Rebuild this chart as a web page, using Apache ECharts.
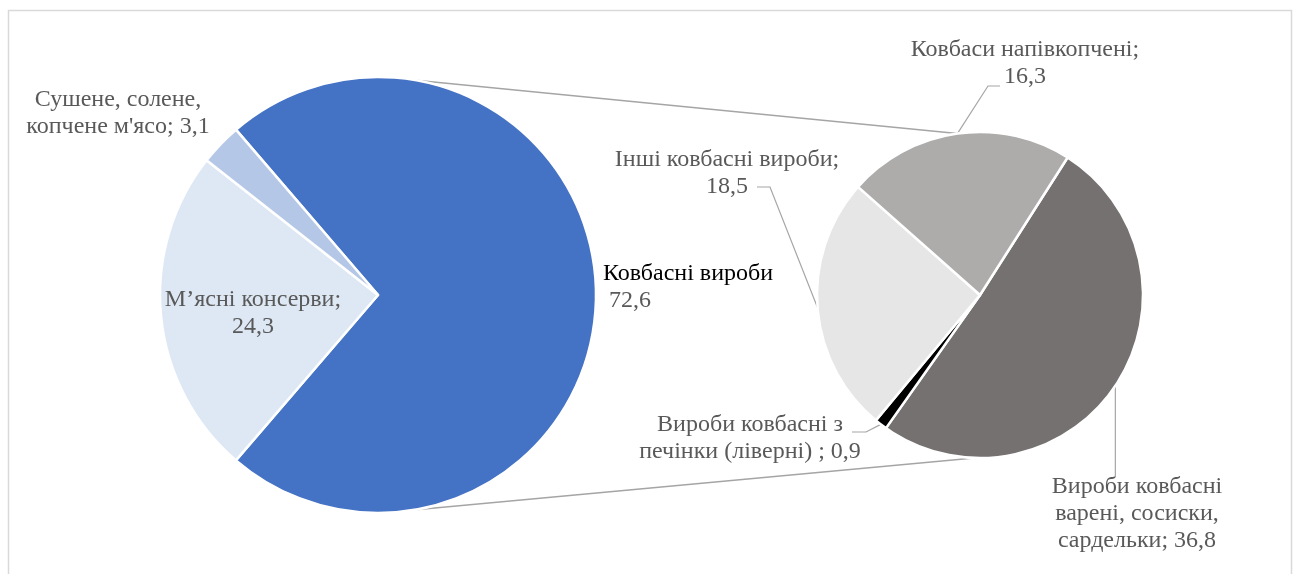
<!DOCTYPE html>
<html><head><meta charset="utf-8">
<script src="https://cdn.jsdelivr.net/npm/echarts@6/dist/echarts.min.js"></script>
<style>html,body{margin:0;padding:0;background:#fff}#c{width:1297px;height:574px}</style>
</head><body><div id="c"></div>
<script>
// ---- data ----
const mainCategories = ['Ковбасні вироби', 'М’ясні консерви', "Сушене, солене, копчене м'ясо"];
const mainValues = [72.6, 24.3, 3.1];
const mainLabelText = ['{b|Ковбасні вироби}\n{v| %v}', 'М’ясні консерви;\n%v', "Сушене, солене,\nкопчене м'ясо; %v"];

const subCategories = ['Вироби ковбасні варені, сосиски, сардельки', 'Вироби ковбасні з печінки (ліверні)', 'Інші ковбасні вироби', 'Ковбаси напівкопчені'];
const subValues = [36.8, 0.9, 18.5, 16.3];
const subLabelText = ['Вироби ковбасні\nварені, сосиски,\nсардельки; %v', 'Вироби ковбасні з\nпечінки (ліверні) ; %v', 'Інші ковбасні вироби;\n%v', 'Ковбаси напівкопчені;\n%v'];

// ---- styles / layout ----
const mainColors = ['#4472C4', '#DEE8F5', '#B4C7E7'];
const subColors = ['#767171', '#000000', '#E7E6E6', '#AEABAB'];
const LEFT = {cx: 378, cy: 295, r: 218};
const RIGHT = {cx: 980, cy: 295, r: 163};
const leftStart = mainValues[0] / mainValues.reduce((a, b) => a + b, 0) * 180;
const rightStart = 57.5;
const FONT = "'Liberation Serif', 'Times New Roman', serif";
const FS = 24, LH = 27;
const GRAY = '#595959';

const mainLabelPos = [
  {x: 603, y: 287, align: 'left'},
  {x: 253, y: 313, align: 'center'},
  {x: 118, y: 113, align: 'center'}
];
const subLabelPos = [
  {x: 1137, y: 514, align: 'center', line: p => [p, [p[0], 476]]},
  {x: 750, y: 438, align: 'center', line: p => [p, [866, 432], [852, 432]]},
  {x: 727, y: 173, align: 'center', line: p => [p, [770, 187], [757, 187]]},
  {x: 1025, y: 63, align: 'center', line: p => [p, [988, 86], [1000, 86]]}
];

const fmt = v => v.toFixed(1).replace('.', ',');

function edgePoint(vals, i, start, g) {
  const tot = vals.reduce((a, b) => a + b, 0);
  let cum = 0;
  for (let k = 0; k < i; k++) cum += vals[k];
  const a = (start - (cum + vals[i] / 2) / tot * 360) * Math.PI / 180;
  return [g.cx + g.r * Math.cos(a), g.cy - g.r * Math.sin(a)];
}
function pt(g, deg) {
  const a = deg * Math.PI / 180;
  return [g.cx + g.r * Math.cos(a), g.cy - g.r * Math.sin(a)];
}

const chart = echarts.init(document.getElementById('c'), null, {renderer: 'canvas'});

const topL = pt(LEFT, 80), topR = pt(RIGHT, 98);
const botL = pt(LEFT, -80), botR = pt(RIGHT, -92);

chart.setOption({
  animation: false,
  backgroundColor: '#fff',
  graphic: [
    {type: 'rect', shape: {x: 8.5, y: 10.5, width: 1283, height: 580}, style: {fill: 'none', stroke: '#D9D9D9', lineWidth: 1.5}, z: -10},
    {type: 'line', shape: {x1: topL[0], y1: topL[1], x2: topR[0], y2: topR[1]}, style: {stroke: '#A5A5A5', lineWidth: 1.5}, z: -5},
    {type: 'line', shape: {x1: botL[0], y1: botL[1], x2: botR[0], y2: botR[1]}, style: {stroke: '#A5A5A5', lineWidth: 1.5}, z: -5}
  ],
  series: [
    {
      type: 'pie',
      center: [LEFT.cx, LEFT.cy],
      radius: LEFT.r,
      startAngle: leftStart,
      clockwise: true,
      avoidLabelOverlap: false,
      itemStyle: {borderColor: '#fff', borderWidth: 2.5},
      label: {
        show: true, position: 'outside', fontFamily: FONT, fontSize: FS, lineHeight: LH, color: GRAY,
        formatter: p => mainLabelText[p.dataIndex].replace('%v', fmt(p.value)),
        rich: {
          b: {fontFamily: FONT, fontSize: FS, lineHeight: LH, color: '#000'},
          v: {fontFamily: FONT, fontSize: FS, lineHeight: LH, color: GRAY}
        }
      },
      labelLine: {show: false},
      labelLayout: p => {
        const o = mainLabelPos[p.dataIndex];
        return {x: o.x, y: o.y, align: o.align, verticalAlign: 'middle'};
      },
      data: mainCategories.map((n, i) => ({name: n, value: mainValues[i], itemStyle: {color: mainColors[i]}}))
    },
    {
      type: 'pie',
      center: [RIGHT.cx, RIGHT.cy],
      radius: RIGHT.r,
      startAngle: rightStart,
      clockwise: true,
      avoidLabelOverlap: false,
      itemStyle: {borderColor: '#fff', borderWidth: 2.5},
      label: {
        show: true, position: 'outside', fontFamily: FONT, fontSize: FS, lineHeight: LH, color: GRAY,
        formatter: p => subLabelText[p.dataIndex].replace('%v', fmt(p.value))
      },
      labelLine: {show: true, lineStyle: {color: '#A6A6A6', width: 1.2}},
      labelLayout: p => {
        const o = subLabelPos[p.dataIndex];
        const e = edgePoint(subValues, p.dataIndex, rightStart, RIGHT);
        return {x: o.x, y: o.y, align: o.align, verticalAlign: 'middle', labelLinePoints: o.line(e)};
      },
      data: subCategories.map((n, i) => ({name: n, value: subValues[i], itemStyle: {color: subColors[i]}}))
    }
  ]
});
</script>
</body></html>
